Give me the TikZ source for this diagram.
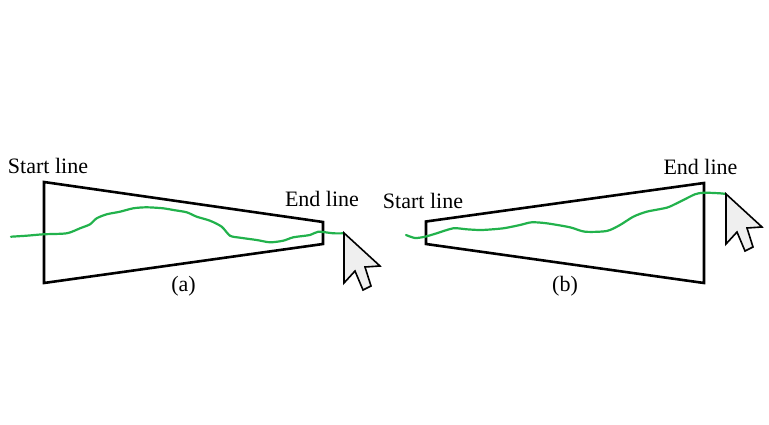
\documentclass[tikz,border=0pt]{standalone}
\usepackage{fontspec}
\setmainfont{Liberation Serif}[Ligatures=TeX]
\newfontfamily\labelfont{Liberation Serif}
\definecolor{trace}{HTML}{22B24C}
\definecolor{cursorfill}{HTML}{EFEFEF}
\tikzset{
  frame/.style={draw=black, line width=2.6pt, line join=miter},
  trail/.style={draw=trace, line width=2.2pt, line join=round, line cap=round},
  lbl/.style={font=\labelfont\fontsize{22}{26}\selectfont, inner sep=0pt, anchor=base},
  pointer/.style={draw=black, fill=cursorfill, line width=1.6pt, line join=miter}
}
\begin{document}
\begin{tikzpicture}[x=1pt,y=-1pt]
\useasboundingbox (0,0) rectangle (769,425);
% ---- panel (a)
\draw[frame] (44,182) -- (323,222) -- (323,244) -- (44,283) -- cycle;
\draw[trail] plot[smooth, tension=0.45] coordinates {
 (11,236.7) (26.7,235.7) (43.3,234.3) (66.7,233.3) (80,228.3) (90,224.3)
 (96.7,218.3) (106.7,214.3) (120,211.7) (133.3,208.3) (146.7,207.3)
 (163.3,208.3) (173.3,210) (186.7,212.3) (196.7,216.7) (210,220.7)
 (221.7,226.7) (230,235.7) (240,237.7) (256.7,240) (270,242.3)
 (283.3,240.7) (293.3,237.3) (310,235) (318.3,231.7) (333.3,233.3) (344,233.3)};
\draw[pointer] (344,233) -- ++(0,50) -- ++(11,-12) -- ++(8,19) -- ++(8,-4) -- ++(-6,-19) -- ++(15,-1) -- cycle;
\node[lbl] (sa) at (48,174) {Start line};
\node[lbl] (ea) at (322,207) {End line};
\node[lbl] (la) at (183.5,291) {(a)};
% ---- panel (b)
\draw[frame] (426,221.5) -- (704,183) -- (704,283) -- (426,244) -- cycle;
\draw[trail] plot[smooth, tension=0.45] coordinates {
 (406,235) (415,238) (425,236.7) (436.7,233.3) (453.3,228.3) (466.7,229.3)
 (481.7,230) (503.3,228.3) (520,225) (531.7,222.3) (546.7,223.3) (570,227.3)
 (585,231.7) (606.7,231) (620,225) (633.3,216.7) (646.7,211.7) (666.7,207.7)
 (676.7,203.3) (686.7,198.3) (695,194.3) (703.3,192.7) (720,193.3) (726,194)};
\draw[pointer] (726,194) -- ++(0,50) -- ++(11,-12) -- ++(8,19) -- ++(8,-4) -- ++(-6,-19) -- ++(15,-1) -- cycle;
\node[lbl] (sb) at (423,208) {Start line};
\node[lbl] (eb) at (700.5,175) {End line};
\node[lbl] (lb) at (565,291) {(b)};
\end{tikzpicture}
\end{document}
